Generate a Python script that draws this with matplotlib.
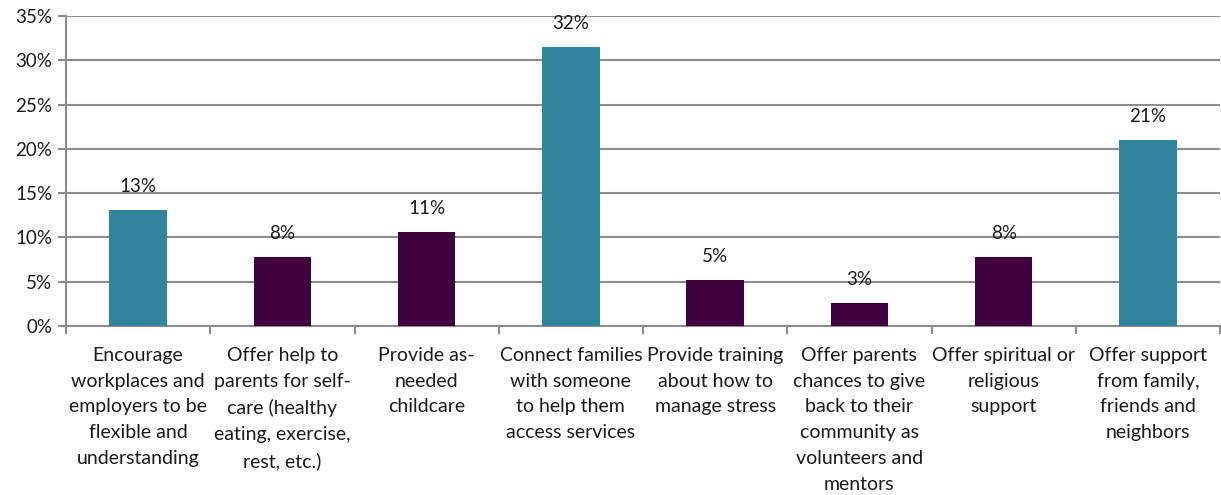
import numpy as np
import matplotlib.pyplot as plt
from matplotlib.ticker import PercentFormatter, FixedLocator

categories = [
    "Encourage\nworkplaces and\nemployers to be\nflexible and\nunderstanding",
    "Offer help to\nparents for self-\ncare (healthy\neating, exercise,\nrest, etc.)",
    "Provide as-\nneeded\nchildcare",
    "Connect families\nwith someone\nto help them\naccess services",
    "Provide training\nabout how to\nmanage stress",
    "Offer parents\nchances to give\nback to their\ncommunity as\nvolunteers and\nmentors",
    "Offer spiritual or\nreligious\nsupport",
    "Offer support\nfrom family,\nfriends and\nneighbors",
]
shares = [0.131, 0.078, 0.106, 0.315, 0.052, 0.026, 0.078, 0.210]
highlight = [True, False, False, True, False, False, False, True]

teal = "#31849B"
plum = "#3F0040"
grid_grey = "#8C8C8C"

plt.rcParams["font.family"] = ["Lato", "DejaVu Sans"]

fig = plt.figure(figsize=(12.21, 4.95), dpi=100)
ax = fig.add_axes([66 / 1221, 1 - 326 / 495, (1220 - 66) / 1221, 310 / 495])

x = np.arange(len(categories))
colors = [teal if h else plum for h in highlight]
bars = ax.bar(x, shares, width=0.4, color=colors, zorder=3)

for rect, v in zip(bars, shares):
    ax.text(rect.get_x() + rect.get_width() / 2, v + 0.017, f"{v * 100:.0f}%",
            ha="center", va="bottom", fontsize=13.5, color="#1a1a1a")

ax.set_xlim(-0.5, len(categories) - 0.5)
ax.set_ylim(0, 0.35)
ax.set_yticks(np.arange(0, 0.351, 0.05))
ax.yaxis.set_major_formatter(PercentFormatter(1.0, decimals=0))
ax.yaxis.grid(True, color=grid_grey, linewidth=1.5, zorder=0)

# category labels sit between the boundary ticks
ax.xaxis.set_major_locator(FixedLocator(np.arange(-0.5, len(categories), 1.0)))
ax.xaxis.set_major_formatter(plt.NullFormatter())
ax.xaxis.set_minor_locator(FixedLocator(x))
ax.set_xticklabels(categories, minor=True, fontsize=14, linespacing=1.63,
                   ha="center", color="#1a1a1a")
ax.tick_params(axis="x", which="minor", length=0, pad=15)
ax.tick_params(axis="x", which="major", length=6, width=1.5, color=grid_grey)
ax.tick_params(axis="y", length=6, width=1.5, color=grid_grey, labelsize=13.5,
               pad=4, labelcolor="#1a1a1a")

for side in ["top", "right"]:
    ax.spines[side].set_visible(False)
for side in ["left", "bottom"]:
    ax.spines[side].set_color(grid_grey)
    ax.spines[side].set_linewidth(1.5)

fig.savefig("out.png", dpi=100)
